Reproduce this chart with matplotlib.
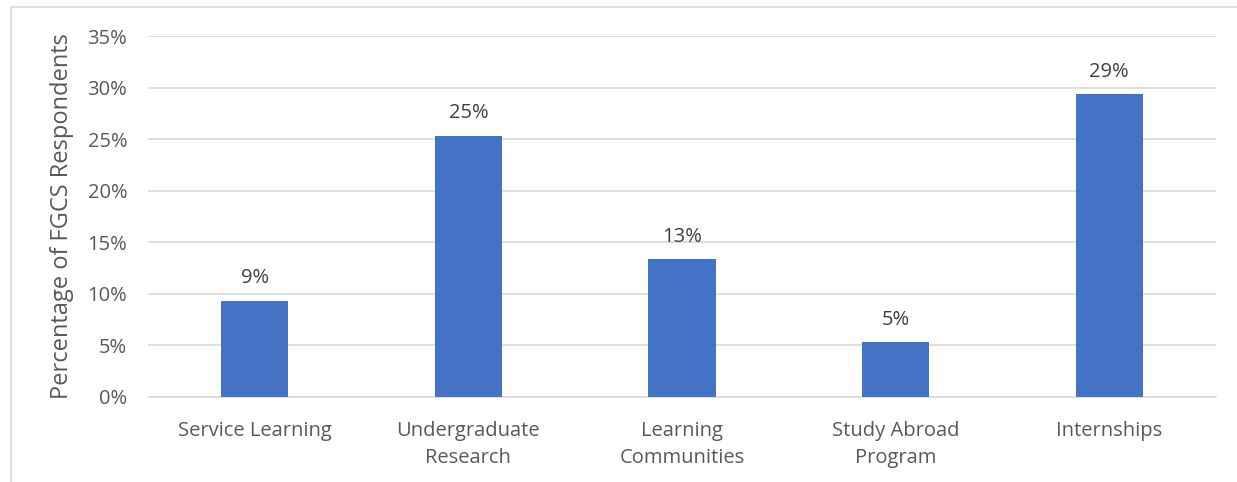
import matplotlib.pyplot as plt
from matplotlib.patches import Rectangle
from matplotlib.ticker import FuncFormatter

# Data
categories = ["Service Learning", "Undergraduate\nResearch", "Learning\nCommunities",
              "Study Abroad\nProgram", "Internships"]
values = [9.35, 25.35, 13.35, 5.3, 29.35]
labels = ["9%", "25%", "13%", "5%", "29%"]
yticks = [0, 5, 10, 15, 20, 25, 30, 35]

plt.rcParams['font.family'] = ['Open Sans', 'DejaVu Sans']

fig = plt.figure(figsize=(12.37, 4.82), dpi=100)
ax = fig.add_axes([148 / 1237, 85 / 482, 1068 / 1237, 361 / 482])

# outer chart frame (partly cut off like the original)
fig.patches.append(Rectangle((11 / 1237, -0.1), 1.2, (482 - 7) / 482 + 0.1,
                             transform=fig.transFigure, fill=False,
                             edgecolor='#d9d9d9', linewidth=1.2))

x = range(len(categories))
ax.bar(x, values, width=0.314, color='#4472c4', zorder=3)

for xi, v, lab in zip(x, values, labels):
    ax.text(xi, v + 1.2, lab, ha='center', va='bottom', fontsize=14.5, color='#404040')

ax.set_xlim(-0.5, len(categories) - 0.5)
ax.set_ylim(0, 35)
ax.set_yticks(yticks)
ax.yaxis.set_major_formatter(FuncFormatter(lambda v, p: f"{v:.0f}%"))
ax.grid(axis='y', color='#d9d9d9', linewidth=1.2, zorder=0)
ax.set_xticks(list(x))
ax.set_xticklabels(categories, fontsize=14.5, color='#595959', linespacing=1.5)
ax.tick_params(axis='y', labelsize=14.5, labelcolor='#595959', length=0, pad=15)
ax.tick_params(axis='x', length=0, pad=17)
for s in ['top', 'right', 'left']:
    ax.spines[s].set_visible(False)
ax.spines['bottom'].set_color('#d9d9d9')
ax.spines['bottom'].set_linewidth(1.2)

ax.set_ylabel("Percentage of FGCS Respondents", fontsize=17, color='#595959', labelpad=10)

plt.savefig("out.png", dpi=100)
